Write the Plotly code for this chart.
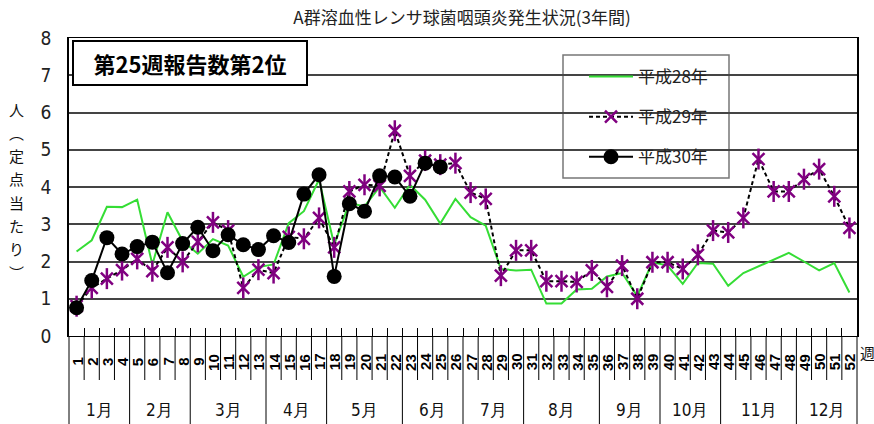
import plotly.graph_objects as go

weeks = [1, 2, 3, 4, 5, 6, 7, 8, 9, 10, 11, 12, 13, 14, 15, 16, 17, 18, 19, 20, 21, 22, 23, 24, 25, 26,
         27, 28, 29, 30, 31, 32, 33, 34, 35, 36, 37, 38, 39, 40, 41, 42, 43, 44, 45, 46, 47, 48, 49, 50, 51, 52]

h28 = [2.27, 2.57, 3.47, 3.46, 3.66, 1.92, 3.32, 2.55, 2.21, 2.60, 2.43, 1.59, 1.85,
       1.92, 3.03, 3.35, 4.20, 2.45, 3.57, 3.48, 4.00, 3.44, 4.06, 3.66, 3.02, 3.68,
       3.19, 2.96, 1.80, 1.76, 1.78, 0.87, 0.87, 1.25, 1.27, 1.60, 1.69, 1.07, 1.98,
       1.89, 1.40, 1.96, 1.94, 1.35, 1.69, 1.87, 2.05, 2.23, 2.00, 1.76, 1.96, 1.17]

h29 = [0.80, 1.29, 1.54, 1.77, 2.07, 1.74, 2.38, 1.99, 2.53, 3.05, 2.83, 1.29, 1.78,
       1.69, 2.66, 2.61, 3.17, 2.38, 3.88, 4.06, 4.03, 5.51, 4.30, 4.71, 4.60, 4.64,
       3.85, 3.68, 1.62, 2.30, 2.30, 1.47, 1.47, 1.45, 1.76, 1.32, 1.89, 1.00, 1.98,
       1.98, 1.80, 2.18, 2.83, 2.78, 3.17, 4.75, 3.88, 3.88, 4.21, 4.48, 3.75, 2.90]

h30 = [0.76, 1.49, 2.64, 2.20, 2.40, 2.52, 1.70, 2.48, 2.92, 2.29, 2.72, 2.45, 2.32,
       2.69, 2.51, 3.81, 4.33, 1.60, 3.55, 3.35, 4.30, 4.27, 3.75, 4.64, 4.54]

series_names = ["平成28年", "平成29年", "平成30年"]

months = ["1月", "2月", "3月", "4月", "5月", "6月", "7月", "8月", "9月", "10月", "11月", "12月"]
month_first_week = [1, 5, 9, 14, 18, 23, 27, 31, 36, 40, 44, 49]
month_last_week = [4, 8, 13, 17, 22, 26, 30, 35, 39, 43, 48, 52]

title_text = "A群溶血性レンサ球菌咽頭炎発生状況(3年間)"
yaxis_chars = ["人", "︵", "定", "点", "当", "た", "り", "︶"]
note_text = "第25週報告数第2位"
week_unit = "週"

JP = "Noto Sans CJK JP, Noto Sans, sans-serif"
NARROW = "Liberation Sans Narrow, DejaVu Sans Condensed, Liberation Sans, sans-serif"

W, H = 874, 424
ML, MR, MT, MB = 69, 17, 38, 88
PW = W - ML - MR
PH = H - MT - MB


def py(pix_y):
    return (H - MB - pix_y) / PH


def px(pix_x):
    return (pix_x - ML) / PW


fig = go.Figure()
fig.add_trace(go.Scatter(
    x=weeks, y=h28, mode="lines", name=series_names[0], legendgroup="g1",
    line=dict(color="#35dd35", width=2)))
fig.add_trace(go.Scatter(
    x=weeks, y=h29, mode="lines+markers", name=series_names[1], legendgroup="g2",
    line=dict(color="black", width=2, dash="4px,3px"),
    marker=dict(symbol="x-thin-open", size=12, color="#800080",
                line=dict(color="#800080", width=2.5))))
fig.add_trace(go.Scatter(
    x=weeks, y=h29, mode="markers", showlegend=False, legendgroup="g2",
    marker=dict(symbol="line-ns-open", size=15, color="#800080",
                line=dict(color="#800080", width=2.5))))
fig.add_trace(go.Scatter(
    x=weeks[:len(h30)], y=h30, mode="lines+markers", name=series_names[2], legendgroup="g3",
    line=dict(color="black", width=2),
    marker=dict(symbol="circle", size=15, color="black")))

boundaries = [w - 0.5 for w in weeks] + [weeks[-1] + 0.5]
month_bounds = [f - 0.5 for f in month_first_week] + [month_last_week[-1] + 0.5]

shapes = []
# legend box
shapes.append(dict(type="rect", xref="paper", yref="paper",
                   x0=px(563), x1=px(729), y0=py(178), y1=py(55),
                   fillcolor="white", line=dict(color="#777", width=1.5), layer="between"))
for b in boundaries:
    if b in month_bounds:
        continue
    shapes.append(dict(type="line", xref="x", yref="paper", x0=b, x1=b,
                       y0=0, y1=py(380), line=dict(color="black", width=1)))
for b in month_bounds:
    if b == month_bounds[0]:
        shapes.append(dict(type="line", xref="paper", yref="paper", x0=0, x1=0,
                           y0=0, y1=py(H), line=dict(color="black", width=1)))
    elif b == month_bounds[-1]:
        shapes.append(dict(type="line", xref="paper", yref="paper", x0=1, x1=1,
                           y0=0, y1=py(H), line=dict(color="black", width=1)))
    else:
        shapes.append(dict(type="line", xref="x", yref="paper", x0=b, x1=b,
                           y0=0, y1=py(H), line=dict(color="black", width=1)))

annotations = []
for w in weeks:
    annotations.append(dict(x=w, xref="x", y=py(362), yref="paper", text=str(w),
                            textangle=-90, showarrow=False, xanchor="center", yanchor="middle",
                            font=dict(family="Liberation Sans, Arial, sans-serif", size=15,
                                      color="black", weight="bold")))
for m, f, l in zip(months, month_first_week, month_last_week):
    annotations.append(dict(x=(f + l) / 2, xref="x", y=py(410), yref="paper", text=m,
                            showarrow=False, xanchor="center", yanchor="middle",
                            font=dict(family=NARROW, size=17, color="#111")))
annotations.append(dict(x=px(858), xref="paper", y=py(352), yref="paper", text=week_unit,
                        showarrow=False, xanchor="left", yanchor="middle",
                        font=dict(family=JP, size=15, color="#111")))
# vertical y-axis title, one character per line
y_top, y_bot = 109, 272
for i, ch in enumerate(yaxis_chars):
    cy = y_top + (y_bot - y_top) * i / (len(yaxis_chars) - 1)
    annotations.append(dict(x=px(16.5), xref="paper", y=py(cy), yref="paper",
                            text=ch, showarrow=False, xanchor="center", yanchor="middle",
                            font=dict(family=JP, size=15, color="#111")))
annotations.append(dict(x=px(190), xref="paper", y=py(62.5), yref="paper", text=note_text,
                        showarrow=False, xanchor="center", yanchor="middle",
                        width=232, height=42, borderpad=0, borderwidth=2,
                        bordercolor="black", bgcolor="white",
                        font=dict(family=JP, size=22, color="black", weight="bold")))

fig.update_layout(
    width=W, height=H,
    margin=dict(l=ML, r=MR, t=MT, b=MB),
    paper_bgcolor="white", plot_bgcolor="white",
    title=dict(text=title_text, x=px(462), xref="paper", xanchor="center",
               y=1 - 18 / H, yref="container", yanchor="middle",
               font=dict(family=JP, size=17, color="#222")),
    xaxis=dict(range=[0.5, 52.5], tickmode="array", tickvals=boundaries,
               showticklabels=False, ticks="inside", ticklen=8, tickcolor="black",
               tickwidth=1, showgrid=False, zeroline=False,
               showline=True, linecolor="black", linewidth=1, mirror=True),
    yaxis=dict(range=[0, 8], tickmode="linear", tick0=0, dtick=1,
               showgrid=True, gridcolor="#444", gridwidth=1.5, zeroline=False,
               showline=True, linecolor="black", linewidth=1.5, mirror=True,
               ticks="", ticklabelstandoff=12,
               tickfont=dict(family=NARROW, size=19, color="#222")),
    legend=dict(x=px(584), y=py(59), xanchor="left", yanchor="top",
                bgcolor="rgba(0,0,0,0)", borderwidth=0,
                tracegroupgap=15, itemwidth=44,
                font=dict(family=JP, size=17, color="#222")),
    shapes=shapes,
    annotations=annotations,
    showlegend=True,
)

fig.write_html("out.html")
